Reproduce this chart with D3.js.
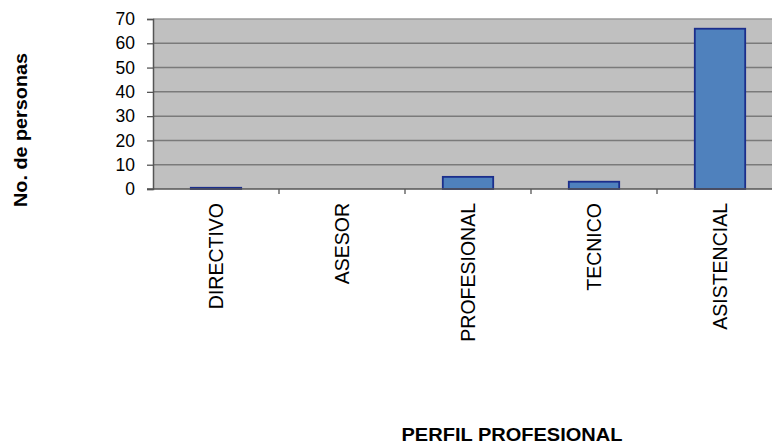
<!DOCTYPE html>
<html>
<head>
<meta charset="utf-8">
<script src="https://cdn.jsdelivr.net/npm/d3@7"></script>
<style>
  body { margin: 0; background: #fff; }
  text { font-family: "Liberation Sans", Arial, sans-serif; fill: #000; }
</style>
</head>
<body>
<div id="chart"></div>
<script>
const categories = ["DIRECTIVO", "ASESOR", "PROFESIONAL", "TECNICO", "ASISTENCIAL"];
const personas = [0.5, 0, 5, 3, 66];
const yTicks = [0, 10, 20, 30, 40, 50, 60, 70];

const W = 772, H = 445;
const m = { left: 153, top: 19, bottom: 189 };
const plotRight = 783; // plot runs slightly past the right edge of the picture

const svg = d3.select("#chart").append("svg")
    .attr("width", W)
    .attr("height", H);

const x = d3.scaleBand()
    .domain(categories)
    .range([m.left, plotRight])
    .paddingInner(0)
    .paddingOuter(0);

const y = d3.scaleLinear()
    .domain([0, 70])
    .range([m.bottom, m.top]);

// gray plot area
svg.append("rect")
    .attr("x", m.left)
    .attr("y", m.top)
    .attr("width", plotRight - m.left)
    .attr("height", m.bottom - m.top)
    .attr("fill", "#c0c0c0");

// gridlines
svg.append("g")
    .selectAll("line")
    .data(yTicks.filter(d => d > 0))
    .join("line")
    .attr("x1", m.left)
    .attr("x2", plotRight)
    .attr("y1", d => y(d))
    .attr("y2", d => y(d))
    .attr("stroke", d => d === 70 ? "#9a9a9a" : "#7a7a7a")
    .attr("stroke-width", 1.5);

// bars
svg.append("g")
    .selectAll("rect")
    .data(categories)
    .join("rect")
    .attr("x", d => x(d) + x.bandwidth() * 0.3)
    .attr("width", x.bandwidth() * 0.4)
    .attr("y", (d, i) => y(personas[i]))
    .attr("height", (d, i) => y(0) - y(personas[i]))
    .attr("fill", "#4f81bd")
    .attr("stroke", (d, i) => personas[i] > 0 ? "#1b2e8c" : "none")
    .attr("stroke-width", 1.8);

// y axis
const yAxis = svg.append("g")
    .attr("transform", `translate(${m.left},0)`)
    .call(d3.axisLeft(y).tickValues(yTicks).tickSize(6).tickPadding(12));
yAxis.select(".domain").attr("stroke", "#555").attr("stroke-width", 1.5);
yAxis.selectAll(".tick line").attr("stroke", "#555").attr("stroke-width", 1.3);
yAxis.selectAll(".tick text")
    .style("font-size", "17.5px")
    .attr("fill", "#000");

// x axis
const xAxis = svg.append("g")
    .attr("transform", `translate(0,${m.bottom})`);
xAxis.append("line")
    .attr("x1", m.left - 6)
    .attr("x2", plotRight)
    .attr("stroke", "#555")
    .attr("stroke-width", 1.5);
xAxis.selectAll("line.tk")
    .data(categories.slice(1))
    .join("line")
    .attr("class", "tk")
    .attr("x1", d => x(d))
    .attr("x2", d => x(d))
    .attr("y1", 0)
    .attr("y2", 5)
    .attr("stroke", "#555")
    .attr("stroke-width", 1.3);
xAxis.selectAll("text")
    .data(categories)
    .join("text")
    .attr("transform", d => `translate(${x(d) + x.bandwidth() / 2},14) rotate(-90)`)
    .attr("text-anchor", "end")
    .attr("dominant-baseline", "central")
    .style("font-size", "19.5px")
    .text(d => d);

// axis titles
svg.append("text")
    .attr("transform", "translate(21,130) rotate(-90)")
    .attr("text-anchor", "middle")
    .attr("dominant-baseline", "central")
    .attr("textLength", 154)
    .attr("lengthAdjust", "spacingAndGlyphs")
    .style("font-size", "18px")
    .style("font-weight", "bold")
    .text("No. de personas");

svg.append("text")
    .attr("x", 512)
    .attr("y", 441)
    .attr("text-anchor", "middle")
    .attr("textLength", 221)
    .attr("lengthAdjust", "spacingAndGlyphs")
    .style("font-size", "18px")
    .style("font-weight", "bold")
    .text("PERFIL PROFESIONAL");
</script>
</body>
</html>
